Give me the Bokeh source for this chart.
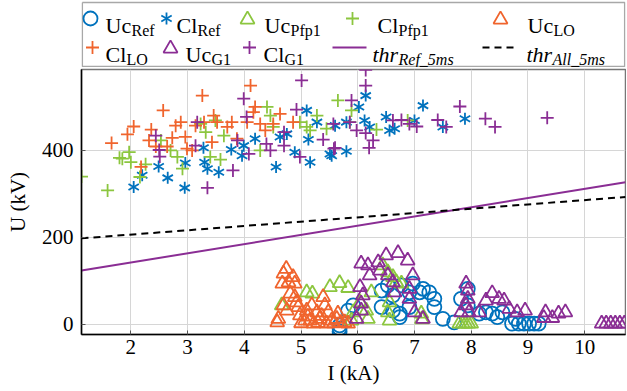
import math
from bokeh.plotting import figure
from bokeh.models import Range1d, FixedTicker
from bokeh.layouts import column
from bokeh.embed import file_html
from bokeh.resources import INLINE
from bokeh.core.properties import value

# ---------------- data ----------------
I_ticks = [2, 3, 4, 5, 6, 7, 8, 9, 10]
U_ticks = [0, 200, 400]

# Uc_Ref (blue circles)
ucref_I = [5.68, 5.68, 5.68, 5.83, 5.92, 6.42, 6.42, 6.53, 6.62, 6.62, 6.74, 6.74, 6.77, 6.91, 6.91, 6.97, 7.09, 7.15, 7.26, 7.35,
           7.35, 7.50, 7.70, 7.82, 7.94, 7.94, 8.14, 8.26, 8.37, 8.46, 8.55, 8.72, 8.78, 8.84, 8.93, 9.02, 9.11, 9.19]
ucref_U = [-2, -9, -16, 32, 44, 78, 40, 90, 67, 32, 17, 25, 90, 74, 40, 94, 74, 82, 74, 59,
           40, 13, 5, 59, 82, 44, 25, 28, 25, 17, 28, 2, 13, 2, 2, 2, 2, 2]

# Cl_Ref (blue asterisks)
clref_I = [2.05, 2.20, 2.49, 2.65, 2.95, 2.96, 3.28, 3.30, 3.35, 3.55, 3.77, 3.96, 3.99, 4.19, 4.56, 4.63, 4.75, 4.89, 5.10, 5.13,
           5.16, 5.28, 5.51, 5.54, 5.60, 5.80, 5.80, 6.02, 6.12, 6.14, 6.21, 6.50, 6.56, 6.65, 7.00, 7.15, 7.50, 7.89]
clref_U = [316, 343, 363, 337, 314, 371, 406, 373, 358, 350, 402, 388, 411, 427, 362, 431, 438, 396, 492, 425,
           373, 465, 392, 388, 457, 465, 398, 500, 469, 526, 454, 477, 446, 450, 469, 503, 454, 473]

# Uc_Pfp1 (green triangles)
ucpfp_I = [4.66, 5.10, 5.20, 5.51, 5.68, 5.83, 5.89, 5.92, 6.04, 6.15, 6.18, 6.24, 6.44, 6.53, 6.62, 6.68, 6.56, 6.53, 6.56, 6.77,
           7.12, 7.13, 7.79, 7.85, 7.90, 7.95, 8.00]
ucpfp_U = [44, 74, 71, 86, 95, 84, 9, 28, 51, 32, 13, 74, 136, 120, 109, 97, 51, 28, 9, 94,
           25, 12, 2, 2, 2, 2, 2]

# Cl_Pfp1 (green crosses)
clpfp_I = [1.13, 1.59, 1.80, 1.85, 1.97, 2.00, 2.16, 2.26, 2.53, 2.70, 2.82, 2.91, 3.23, 3.32, 3.40, 3.49, 3.58, 3.64, 4.28, 4.40,
           4.46, 4.51, 4.98, 5.10, 5.16, 5.28, 5.45, 5.65, 5.86, 5.89, 6.33, 6.88]
clpfp_U = [340, 308, 383, 381, 396, 373, 339, 368, 423, 400, 385, 358, 461, 442, 385, 469, 379, 434, 400, 500,
           480, 454, 465, 454, 446, 480, 450, 515, 465, 492, 448, 469]

# Uc_LO (orange triangles)
uclo_I = [4.60, 4.67, 4.69, 4.69, 4.74, 4.75, 4.78, 4.81, 4.86, 4.89, 4.89, 4.92, 4.98, 5.07, 5.10, 5.16, 5.19, 5.28, 5.33, 5.39,
          5.42, 5.48, 5.54, 5.63, 5.65, 5.77, 5.83, 4.58, 5.00, 5.22, 5.30, 5.45, 5.58, 5.70, 4.95, 5.12, 5.36]
uclo_U = [13, 94, 117, 44, 128, 32, 97, 71, 109, 94, 63, 51, 21, 9, 32, 9, 44, 28, 13, 63,
          44, 28, 9, 13, 25, 5, 2, 5, 3, 2, 4, 2, 3, 4, 40, 18, 20]

# Cl_LO (orange crosses)
cllo_I = [1.66, 1.94, 2.05, 2.18, 2.32, 2.36, 2.44, 2.57, 2.64, 2.73, 2.79, 2.88, 2.96, 2.99, 3.08, 3.14, 3.26, 3.29, 3.43, 3.46,
          3.52, 3.70, 3.78, 3.87, 4.05, 4.11, 4.16, 4.19, 4.28, 4.37, 4.51, 4.63, 4.86]
cllo_U = [417, 437, 455, 362, 423, 448, 409, 492, 409, 429, 457, 465, 431, 404, 400, 457, 526, 465, 419, 480,
          465, 454, 465, 427, 465, 549, 488, 500, 461, 446, 461, 484, 465]

# Uc_G1 (purple triangles)
ucg1_I = [5.98, 6.04, 6.06, 6.06, 6.06, 6.09, 6.18, 6.21, 6.36, 6.39, 6.50, 6.53, 6.62, 6.65, 6.71, 6.88, 6.91, 6.91, 6.97, 7.00,
          7.15, 7.82, 7.91, 7.91, 7.94, 7.94, 7.96, 8.14, 8.26, 8.37, 8.49, 8.58, 8.67, 8.81, 8.95, 9.28, 9.31, 9.43, 9.54, 9.66,
          10.30, 10.38, 10.46, 10.54, 10.62, 10.70]
ucg1_U = [13, 86, 140, 48, 32, 67, 136, 113, 143, 124, 159, 113, 97, 74, 164, 147, 82, 59, 113, 28,
          13, 28, 94, 44, 78, 59, 28, 28, 55, 72, 59, 55, 36, 28, 32, 15, 28, 15, 25, 28,
          2, 2, 2, 2, 2, 2]

# Cl_G1 (purple crosses)
clg1_I = [2.44, 2.50, 2.51, 3.14, 3.17, 3.35, 3.80, 3.88, 3.99, 4.04, 4.08, 4.39, 4.46, 4.70, 4.70, 4.92, 4.98, 5.01, 5.39, 5.57,
          5.58, 5.60, 5.86, 5.89, 5.98, 6.14, 6.14, 6.14, 6.20, 6.27, 6.62, 6.77, 6.91, 7.04, 7.41, 7.56, 7.80, 8.25, 8.42, 9.34]
clg1_U = [434, 401, 386, 411, 465, 314, 354, 423, 519, 477, 392, 415, 400, 442, 411, 494, 385, 561, 425, 461,
          404, 406, 465, 515, 446, 585, 549, 440, 406, 423, 469, 470, 461, 455, 470, 454, 501, 473, 454, 475]

# thresholds
thr_ref_I = [1.13, 10.72]
thr_ref_U = [124, 327]
thr_all_I = [1.13, 10.72]
thr_all_U = [198, 293]

# ---------------- style ----------------
FONT = "Liberation Serif"
BLUE = "#0072BD"
ORANGE = "#F0642D"
GREEN = "#8CC63F"
PURPLE = "#8A2D94"
LW = 1.8

W = 626
LEG_H = 67
MAIN_H = 323
BL, BR = 81, 1

p = figure(width=W, height=MAIN_H, output_backend="svg", toolbar_location=None,
           x_range=Range1d(1.13, 10.72), y_range=Range1d(-23, 586),
           min_border_left=BL, min_border_right=BR, min_border_top=2, min_border_bottom=56)

p.xaxis.ticker = FixedTicker(ticks=I_ticks)
p.yaxis.ticker = FixedTicker(ticks=U_ticks)
p.xgrid.ticker = FixedTicker(ticks=I_ticks)
p.ygrid.ticker = FixedTicker(ticks=U_ticks)
p.xaxis.axis_label = "I (kA)"
p.yaxis.axis_label = "U (kV)"
for ax in (p.xaxis, p.yaxis):
    ax.axis_label_text_font = FONT
    ax.axis_label_text_font_style = "normal"
    ax.axis_label_text_font_size = "21px"
    ax.axis_label_text_color = "black"
    ax.major_label_text_font = FONT
    ax.major_label_text_font_size = "21px"
    ax.major_label_text_color = "black"
    ax.axis_line_color = "black"
    ax.axis_line_width = 1.5
    ax.major_tick_in = 4
    ax.major_tick_out = 0
    ax.major_tick_line_color = "#555555"
    ax.minor_tick_line_color = None
p.xaxis.major_label_standoff = 5
p.xaxis.axis_label_standoff = 4
p.yaxis.major_label_standoff = 8
p.yaxis.axis_label_standoff = 9
p.grid.grid_line_color = "#d6d6d6"
p.grid.grid_line_width = 1
p.outline_line_color = "#777777"
p.outline_line_width = 1.5


def asterisk(fig, xs, ys, size, color):
    for ang in (90, 30, -30):
        fig.scatter(xs, ys, marker="dash", size=size, angle=math.radians(ang),
                    line_color=color, line_width=LW)


p.scatter(ucref_I, ucref_U, marker="circle", size=14, fill_color=None, line_color=BLUE, line_width=LW)
asterisk(p, clref_I, clref_U, 12, BLUE)
p.scatter(ucpfp_I, ucpfp_U, marker="triangle", size=14, fill_color=None, line_color=GREEN, line_width=LW)
p.scatter(clpfp_I, clpfp_U, marker="cross", size=13, line_color=GREEN, line_width=LW)
p.scatter(uclo_I, uclo_U, marker="triangle", size=14, fill_color=None, line_color=ORANGE, line_width=LW)
p.scatter(cllo_I, cllo_U, marker="cross", size=13, line_color=ORANGE, line_width=LW)
p.scatter(ucg1_I, ucg1_U, marker="triangle", size=14, fill_color=None, line_color=PURPLE, line_width=LW)
p.scatter(clg1_I, clg1_U, marker="cross", size=13, line_color=PURPLE, line_width=LW)
p.line(thr_ref_I, thr_ref_U, line_color=PURPLE, line_width=2)
p.line(thr_all_I, thr_all_U, line_color="black", line_width=2, line_dash="7 5")

# ---------------- legend strip (page-pixel coordinates) ----------------
lf = figure(width=W, height=LEG_H, output_backend="svg", toolbar_location=None,
            x_range=Range1d(BL, W - BR), y_range=Range1d(LEG_H, 0),
            x_axis_location=None, y_axis_location=None,
            min_border_left=0, min_border_right=0, min_border_top=0, min_border_bottom=0)
lf.grid.visible = False
lf.outline_line_color = None
bx0, bx1, by0, by1 = BL + 0.8, W - BR - 0.8, 2, 66
lf.line([bx0, bx1, bx1, bx0, bx0], [by0, by0, by1, by1, by0], line_color="#a8a8a8", line_width=1.5)

R1, R2 = 18, 47
MAIN_FS, SUB_FS = "22px", "16px"

lf.scatter([90], [R1], marker="circle", size=14, fill_color=None, line_color=BLUE, line_width=LW)
asterisk(lf, [166], [R1], 12, BLUE)
lf.scatter([247], [R1 + 1], marker="triangle", size=14, fill_color=None, line_color=GREEN, line_width=LW)
lf.scatter([352], [R1], marker="cross", size=13, line_color=GREEN, line_width=LW)
lf.scatter([500], [R1 + 1], marker="triangle", size=14, fill_color=None, line_color=ORANGE, line_width=LW)
lf.scatter([92], [R2], marker="cross", size=13, line_color=ORANGE, line_width=LW)
lf.scatter([170], [R2 + 1], marker="triangle", size=14, fill_color=None, line_color=PURPLE, line_width=LW)
lf.scatter([249], [R2], marker="cross", size=13, line_color=PURPLE, line_width=LW)
lf.line([332, 366], [R2, R2], line_color=PURPLE, line_width=2)
lf.line([482, 515], [R2, R2], line_color="black", line_width=2, line_dash="7 5")

main_x = [105, 176, 264, 377, 527, 105, 185, 263]
main_y = [R1 + 7] * 5 + [R2 + 7] * 3
main_t = ["Uc", "Cl", "Uc", "Cl", "Uc", "Cl", "Uc", "Cl"]
sub_x = [131, 197, 290, 398, 553, 126, 211, 284]
sub_y = [R1 + 12] * 5 + [R2 + 12] * 3
sub_t = ["Ref", "Ref", "Pfp1", "Pfp1", "LO", "LO", "G1", "G1"]
lf.text(main_x, main_y, text=main_t, text_font=value(FONT), text_font_size=MAIN_FS,
        text_baseline="alphabetic", text_align="left", text_color="black")
lf.text(sub_x, sub_y, text=sub_t, text_font=value(FONT), text_font_size=SUB_FS,
        text_baseline="alphabetic", text_align="left", text_color="black")
lf.text([372, 526], [R2 + 7, R2 + 7], text=["thr", "thr"], text_font=value(FONT), text_font_size=MAIN_FS,
        text_font_style="italic", text_baseline="alphabetic", text_align="left", text_color="black")
lf.text([398, 552], [R2 + 12, R2 + 12], text=["Ref_5ms", "All_5ms"], text_font=value(FONT), text_font_size=SUB_FS,
        text_font_style="italic", text_baseline="alphabetic", text_align="left", text_color="black")

layout = column(lf, p, spacing=0)
open("out.html", "w").write(file_html(layout, INLINE))
